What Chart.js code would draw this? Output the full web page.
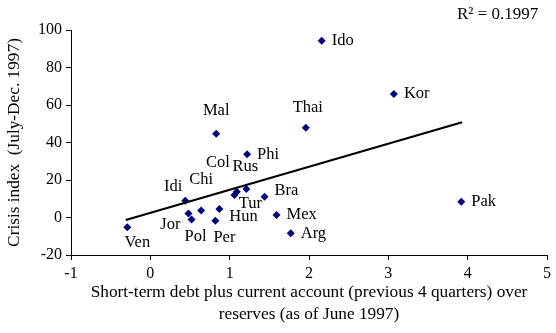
<!DOCTYPE html>
<html>
<head>
<meta charset="utf-8">
<script src="https://cdn.jsdelivr.net/npm/chart.js@4"></script>
<style>
  html, body { margin: 0; padding: 0; background: #fff; }
  #wrap { width: 556px; height: 333px; }
</style>
</head>
<body>
<div id="wrap"><canvas id="chart" width="556" height="333"></canvas></div>
<script>
// countries and their values
const countries = ['Ido', 'Kor', 'Thai', 'Mal', 'Phi', 'Rus', 'Col', 'Tur', 'Bra', 'Idi',
  'Chi', 'Hun', 'Jor', 'Pol', 'Per', 'Mex', 'Arg', 'Ven', 'Pak'];
const debtRatio = [2.16, 3.07, 1.96, 0.83, 1.22, 1.21, 1.09, 1.06, 1.44, 0.44,
  0.64, 0.87, 0.48, 0.52, 0.82, 1.59, 1.77, -0.29, 3.92];
const crisisIndex = [94.3, 65.9, 47.9, 44.7, 33.7, 15.2, 13.8, 12.0, 11.1, 9.0,
  3.8, 4.5, 2.2, -1.0, -1.7, 1.3, -8.4, -5.2, 8.4];

// linear trend line end points
const trendX = [-0.31, 3.93];
const trendY = [-1.3, 50.8];

const xTicks = [-1, 0, 1, 2, 3, 4, 5];
const yTicks = [-20, 0, 20, 40, 60, 80, 100];
const rSquared = 'R² = 0.1997';

const serif = '"Liberation Serif", "Times New Roman", serif';

// label placement: 'r' = to the right of the marker, else [dx, dy] of text centre
const labelPos = {
  Ido: 'r', Kor: 'r', Thai: [2, -20], Mal: [0, -23], Phi: 'r', Rus: [-1, -22],
  Col: [-19, -29], Tur: [16, 9], Bra: ['r', -6], Idi: [-12, -14], Chi: [0, -31],
  Hun: ['r', 8], Jor: [-18, 11], Pol: [4, 17], Per: [9, 17], Mex: 'r', Arg: 'r',
  Ven: [10, 15], Pak: 'r'
};

const labelPlugin = {
  id: 'labels',
  afterDatasetsDraw(chart) {
    const ctx = chart.ctx;
    const meta = chart.getDatasetMeta(1);
    ctx.save();
    ctx.fillStyle = '#000';
    ctx.font = '16.5px ' + serif;
    ctx.textBaseline = 'middle';
    meta.data.forEach((pt, i) => {
      const p = labelPos[countries[i]];
      if (p === 'r' || p[0] === 'r') {
        ctx.textAlign = 'left';
        ctx.fillText(countries[i], pt.x + 10, pt.y + (p === 'r' ? 0 : p[1]));
      } else {
        ctx.textAlign = 'center';
        ctx.fillText(countries[i], pt.x + p[0], pt.y + p[1]);
      }
    });
    // R squared in the top right corner
    ctx.textAlign = 'left';
    ctx.font = '17px ' + serif;
    ctx.fillText(rSquared, 457, 15);
    ctx.restore();
  }
};

new Chart(document.getElementById('chart'), {
  type: 'scatter',
  data: {
    datasets: [{
      type: 'line',
      data: trendX.map((x, i) => ({ x: x, y: trendY[i] })),
      borderColor: '#000',
      borderWidth: 2.2,
      pointRadius: 0,
      fill: false
    }, {
      data: debtRatio.map((x, i) => ({ x: x, y: crisisIndex[i] })),
      pointStyle: 'rectRot',
      pointRadius: 4,
      backgroundColor: '#000080',
      borderColor: '#000080',
      borderWidth: 0
    }]
  },
  options: {
    responsive: false,
    animation: false,
    layout: { padding: { top: 30, right: 9, left: 0, bottom: 0 } },
    plugins: { legend: { display: false }, tooltip: { enabled: false } },
    scales: {
      x: {
        type: 'linear', min: -1, max: 5,
        afterBuildTicks: (s) => { s.ticks = xTicks.map(v => ({ value: v })); },
        afterFit: (s) => { s.height = 78; },
        grid: { drawOnChartArea: false, drawTicks: true, tickLength: 5, color: '#000' },
        border: { display: true, color: '#000', width: 1 },
        ticks: { color: '#000', font: { family: serif, size: 16 }, padding: 4, maxRotation: 0 },
        title: {
          display: true,
          text: ['Short-term debt plus current account (previous 4 quarters) over', 'reserves (as of June 1997)'],
          color: '#000', font: { family: serif, size: 17.3, lineHeight: 1.3 }, padding: { top: 0, bottom: 7 }
        }
      },
      y: {
        type: 'linear', min: -20, max: 100,
        afterBuildTicks: (s) => { s.ticks = yTicks.map(v => ({ value: v })); },
        afterFit: (s) => { s.width = 71; },
        grid: { drawOnChartArea: false, drawTicks: true, tickLength: 5, color: '#000' },
        border: { display: true, color: '#000', width: 1 },
        ticks: { color: '#000', font: { family: serif, size: 16 }, padding: 4 },
        title: {
          display: true,
          text: 'Crisis index  (July-Dec. 1997)',
          color: '#000', font: { family: serif, size: 17.3 }, padding: { top: 4, bottom: 4 }
        }
      }
    }
  },
  plugins: [labelPlugin]
});
</script>
</body>
</html>
